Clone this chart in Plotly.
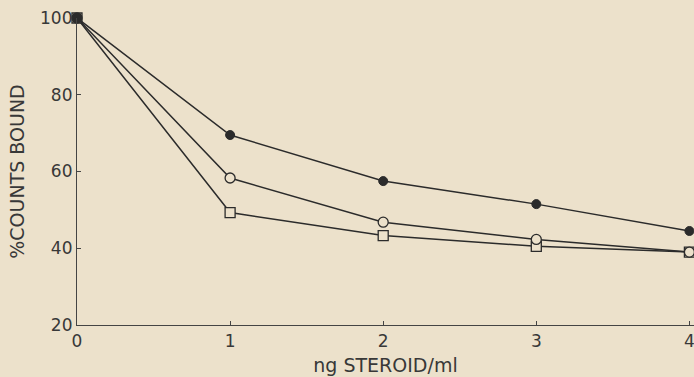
import plotly.graph_objects as go

x_vals = [0, 1, 2, 3, 4]
tick_x = ["0", "1", "2", "3", "4"]
filled_circle = [100, 69.5, 57.5, 51.5, 44.5]
open_circle = [100, 58.3, 46.8, 42.3, 39.0]
open_square = [100, 49.3, 43.3, 40.5, 39.0]

bg = "#ece1cb"
ink = "#2b2b2b"
txt = "#383838"

fig = go.Figure()
fig.add_trace(go.Scatter(x=x_vals, y=open_square, mode="lines+markers",
                         line=dict(color=ink, width=1.5),
                         marker=dict(symbol="square", size=10, color=bg, line=dict(color=ink, width=1.3)),
                         cliponaxis=False, showlegend=False))
fig.add_trace(go.Scatter(x=x_vals, y=open_circle, mode="lines+markers",
                         line=dict(color=ink, width=1.5),
                         marker=dict(symbol="circle", size=10, color=bg, line=dict(color=ink, width=1.3)),
                         cliponaxis=False, showlegend=False))
fig.add_trace(go.Scatter(x=x_vals, y=filled_circle, mode="lines+markers",
                         line=dict(color=ink, width=1.5),
                         marker=dict(symbol="circle", size=9, color=ink, line=dict(color=ink, width=1)),
                         cliponaxis=False, showlegend=False))

fig.update_layout(
    width=694, height=377,
    margin=dict(l=77, r=0, t=18, b=52),
    paper_bgcolor=bg, plot_bgcolor=bg,
    font=dict(family="DejaVu Sans", color=txt, size=14),
    xaxis=dict(range=[0, 4.03], tickvals=x_vals, ticktext=tick_x,
               showgrid=False, zeroline=False, showline=True, linecolor="#444444", linewidth=1.2,
               ticks="inside", ticklen=4, tickcolor="#444444",
               tickfont=dict(size=17), ticklabeloverflow="allow",
               title=dict(text="ng STEROID/ml", font=dict(size=19), standoff=9)),
    yaxis=dict(range=[20, 100], tickvals=[20, 40, 60, 80, 100],
               showgrid=False, zeroline=False, showline=True, linecolor="#444444", linewidth=1.2,
               ticks="inside", ticklen=4, tickcolor="#444444",
               tickfont=dict(size=17),
               title=dict(text="%COUNTS BOUND", font=dict(size=19), standoff=10)),
)

fig.write_html("out.html", config={"displayModeBar": False},
               post_script="document.body.style.margin='0';document.body.style.overflow='hidden';")
